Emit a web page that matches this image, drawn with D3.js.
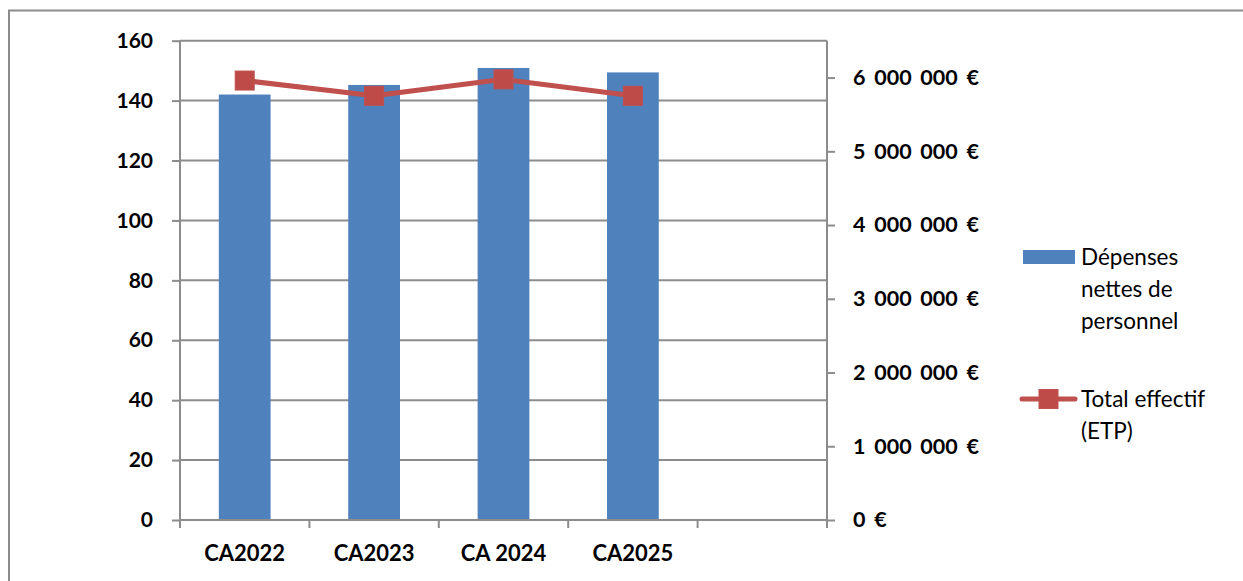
<!DOCTYPE html>
<html lang="fr">
<head>
<meta charset="utf-8">
<script src="https://cdn.jsdelivr.net/npm/d3@7"></script>
<style>
  html, body { margin: 0; padding: 0; background: #ffffff; }
  svg { display: block; }
  text { font-family: Lato, "Open Sans", sans-serif; fill: #000; }
</style>
</head>
<body>
<svg id="chart" width="1243" height="581"></svg>
<script>
// Catégories (la dernière colonne est volontairement vide)
const categories = ["CA2022", "CA2023", "CA 2024", "CA2025", ""];
// Dépenses nettes de personnel (€) — axe de droite
const depenses = [5770000, 5900000, 6130000, 6070000];
// Total effectif (ETP) — axe de gauche
const effectif = [146.7, 141.6, 147.1, 141.6];
// Graduations
const leftTicks = [0, 20, 40, 60, 80, 100, 120, 140, 160];
const rightTicks = [0, 1000000, 2000000, 3000000, 4000000, 5000000, 6000000];

const svg = d3.select("#chart");
const plot = { left: 180, right: 827, top: 40.7, bottom: 520 };
const gridColor = "#8c8c8c";
const barColor = "#4f81bd";
const lineColor = "#c0504d";

const x = d3.scaleBand().domain(categories).range([plot.left, plot.right]).padding(0);
const yL = d3.scaleLinear().domain([0, 160]).range([plot.bottom, plot.top]);
const yR = d3.scaleLinear().domain([0, 6500000]).range([plot.bottom, plot.top]);

const fr = d3.formatLocale({ decimal: ",", thousands: "\u00a0", grouping: [3], currency: ["", "\u00a0€"] });
const euro = fr.format("$,");

// Cadre extérieur
svg.append("rect")
  .attr("x", 9).attr("y", 10.5).attr("width", 1300).attr("height", 640)
  .attr("fill", "none").attr("stroke", gridColor).attr("stroke-width", 2);

// Quadrillage horizontal
svg.append("g").selectAll("line").data(leftTicks).join("line")
  .attr("x1", plot.left).attr("x2", plot.right)
  .attr("y1", d => yL(d)).attr("y2", d => yL(d))
  .attr("stroke", gridColor).attr("stroke-width", 2);

// Axe de gauche
const axL = svg.append("g")
  .attr("transform", `translate(${plot.left},0)`)
  .call(d3.axisLeft(yL).tickValues(leftTicks).tickSize(8).tickPadding(19).tickFormat(d3.format("d")));
axL.selectAll("line").attr("stroke", gridColor).attr("stroke-width", 2);
axL.select(".domain").attr("stroke", gridColor).attr("stroke-width", 2).attr("d", `M0,${plot.bottom}V${plot.top}`);
axL.selectAll("text").attr("font-size", 21).attr("font-weight", "bold").attr("font-family", "Lato").attr("fill", "#000");

// Axe de droite
const axR = svg.append("g")
  .attr("transform", `translate(${plot.right},0)`)
  .call(d3.axisRight(yR).tickValues(rightTicks).tickSize(8).tickPadding(18).tickFormat(euro));
axR.selectAll("line").attr("stroke", gridColor).attr("stroke-width", 2);
axR.select(".domain").attr("stroke", gridColor).attr("stroke-width", 2).attr("d", `M0,${plot.bottom}V${plot.top}`);
axR.selectAll("text").attr("font-size", 21.5).attr("font-weight", "bold").attr("font-family", "Lato")
  .attr("fill", "#000").attr("word-spacing", 3.5);

// Barres
const barW = x.bandwidth() * 0.4;
svg.append("g").selectAll("rect").data(depenses).join("rect")
  .attr("x", (d, i) => x(categories[i]) + (x.bandwidth() - barW) / 2)
  .attr("width", barW)
  .attr("y", d => yR(d))
  .attr("height", d => yR(0) - yR(d))
  .attr("fill", barColor);

// Axe des catégories
const axB = svg.append("g")
  .attr("transform", `translate(0,${plot.bottom})`)
  .call(d3.axisBottom(x).tickSize(0).tickPadding(25));
axB.select(".domain").attr("stroke", gridColor).attr("stroke-width", 2).attr("d", `M${plot.left},0H${plot.right}`);
axB.selectAll("text").attr("font-size", 22).attr("font-weight", "bold").attr("font-family", "Lato").attr("fill", "#000");
const bounds = categories.map(c => x(c)).concat([plot.right]);
axB.selectAll("line.sep").data(bounds).join("line").attr("class", "sep")
  .attr("x1", d => d).attr("x2", d => d).attr("y1", 0).attr("y2", 8)
  .attr("stroke", gridColor).attr("stroke-width", 2);

// Courbe des effectifs
const cx = (d, i) => x(categories[i]) + x.bandwidth() / 2;
svg.append("path")
  .datum(effectif)
  .attr("d", d3.line().x(cx).y(d => yL(d)))
  .attr("fill", "none").attr("stroke", lineColor).attr("stroke-width", 5).attr("stroke-linejoin", "round");
const mk = 19;
svg.append("g").selectAll("rect").data(effectif).join("rect")
  .attr("x", (d, i) => cx(d, i) - mk / 2).attr("y", d => yL(d) - mk / 2)
  .attr("width", mk).attr("height", mk)
  .attr("fill", "#be4b48").attr("stroke", "#c0504d").attr("stroke-width", 1);

// Légende
const lg = svg.append("g").attr("font-family", "Lato").attr("font-size", 22.5);
lg.append("rect").attr("x", 1023).attr("y", 250).attr("width", 52).attr("height", 14).attr("fill", barColor);
const t1 = lg.append("text").attr("x", 1081).attr("y", 265);
["Dépenses", "nettes de", "personnel"].forEach((s, i) =>
  t1.append("tspan").attr("x", 1081).attr("dy", i ? 32 : 0).text(s));
lg.append("line").attr("x1", 1022).attr("x2", 1075).attr("y1", 399).attr("y2", 399)
  .attr("stroke", lineColor).attr("stroke-width", 5).attr("stroke-linecap", "round");
lg.append("rect").attr("x", 1039).attr("y", 389.5).attr("width", mk).attr("height", mk)
  .attr("fill", "#be4b48").attr("stroke", "#c0504d");
const t2 = lg.append("text").attr("x", 1081).attr("y", 407);
["Total effectif", "(ETP)"].forEach((s, i) =>
  t2.append("tspan").attr("x", 1081).attr("dy", i ? 32 : 0).text(s));
</script>
</body>
</html>
